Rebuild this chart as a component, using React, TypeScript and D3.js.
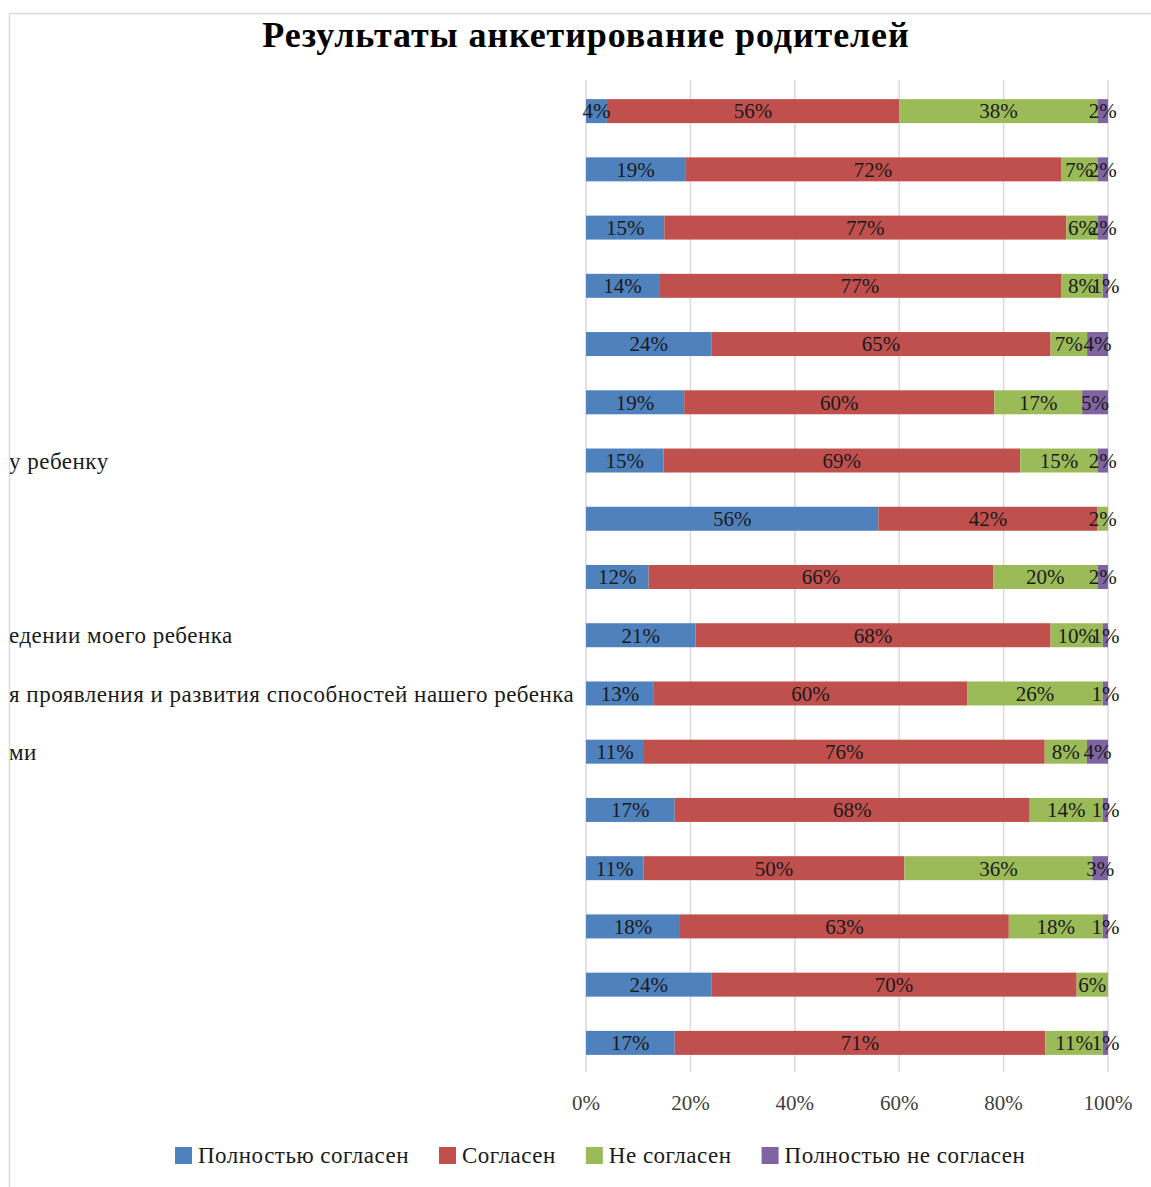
import React, { useEffect, useRef } from 'react';
import * as d3 from 'd3';

// visible parts of the question labels (the rest is cut off by the frame)
const questions = [
  '', '', '', '', '', '',
  'у ребенку',
  '',
  '',
  'едении моего ребенка',
  'я проявления и развития способностей нашего ребенка',
  'ми',
  '', '', '', '', '',
];

const seriesNames = ['Полностью согласен', 'Согласен', 'Не согласен', 'Полностью не согласен'];
const seriesColors = ['#4F81BD', '#C0504D', '#9BBB59', '#8064A2'];

const fullyAgree = [4, 19, 15, 14, 24, 19, 15, 56, 12, 21, 13, 11, 17, 11, 18, 24, 17];
const agree = [56, 72, 77, 77, 65, 60, 69, 42, 66, 68, 60, 76, 68, 50, 63, 70, 71];
const disagree = [38, 7, 6, 8, 7, 17, 15, 2, 20, 10, 26, 8, 14, 36, 18, 6, 11];
const fullyDisagree = [2, 2, 2, 1, 4, 5, 2, 0, 2, 1, 1, 4, 1, 3, 1, 0, 1];

const ticks = [0, 0.2, 0.4, 0.6, 0.8, 1];

const W = 1151;
const H = 1187;
const FONT = '"Liberation Serif", "Times New Roman", serif';

const App: React.FC = () => {
  const svgRef = useRef<SVGSVGElement>(null);

  useEffect(() => {
    if (!svgRef.current) return;
    const svg = d3.select(svgRef.current);
    svg.selectAll('*').remove();

    const rows = questions.map((q, i) => ({
      id: String(i),
      label: q,
      [seriesNames[0]]: fullyAgree[i],
      [seriesNames[1]]: agree[i],
      [seriesNames[2]]: disagree[i],
      [seriesNames[3]]: fullyDisagree[i],
    }));

    const x = d3.scaleLinear().domain([0, 1]).range([586, 1108]);
    const y = d3.scaleBand<string>()
      .domain(rows.map(r => r.id))
      .range([82, 1072])
      .paddingInner(0.588)
      .paddingOuter(0.294);

    const stack = d3.stack<any>()
      .keys(seriesNames)
      .offset(d3.stackOffsetExpand);
    const layers = stack(rows);

    // frame
    svg.append('path')
      .attr('d', `M9.5,${H} V13.5 H${W}`)
      .style('fill', 'none')
      .style('stroke', '#d9d9d9')
      .style('stroke-width', 1.5);

    // title
    svg.append('text')
      .attr('x', 586)
      .attr('y', 47)
      .attr('text-anchor', 'middle')
      .style('font-family', FONT)
      .style('font-weight', 'bold')
      .style('font-size', '36px')
      .style('letter-spacing', '0.9px')
      .style('fill', '#000')
      .text('Результаты анкетирование родителей');

    // gridlines
    svg.append('g')
      .selectAll('line')
      .data(ticks)
      .enter()
      .append('line')
      .attr('x1', d => x(d))
      .attr('x2', d => x(d))
      .attr('y1', 80)
      .attr('y2', 1072)
      .style('stroke', '#d9d9d9')
      .style('stroke-width', 1.5);

    // tick labels
    svg.append('g')
      .selectAll('text')
      .data(ticks)
      .enter()
      .append('text')
      .attr('x', d => x(d))
      .attr('y', 1110)
      .attr('text-anchor', 'middle')
      .style('font-family', FONT)
      .style('font-size', '21px')
      .style('fill', '#404040')
      .text(d => d3.format('.0%')(d));

    // category labels, clipped by the frame
    svg.append('clipPath')
      .attr('id', 'label-clip')
      .append('rect')
      .attr('x', 10)
      .attr('y', 60)
      .attr('width', 570)
      .attr('height', 1030);

    svg.append('g')
      .attr('clip-path', 'url(#label-clip)')
      .selectAll('text')
      .data(rows)
      .enter()
      .append('text')
      .attr('x', 9)
      .attr('y', d => (y(d.id) as number) + y.bandwidth() / 2)
      .attr('dy', '0.35em')
      .style('font-family', FONT)
      .style('font-size', '23px')
      .style('letter-spacing', '0.5px')
      .style('fill', '#1a1a1a')
      .text(d => d.label);

    // bars
    const layerG = svg.append('g')
      .selectAll('g')
      .data(layers)
      .enter()
      .append('g')
      .style('fill', (_d, i) => seriesColors[i]);

    layerG.selectAll('rect')
      .data(d => d)
      .enter()
      .append('rect')
      .attr('x', d => x(d[0]))
      .attr('y', d => y(d.data.id) as number)
      .attr('width', d => x(d[1]) - x(d[0]))
      .attr('height', y.bandwidth());

    // data labels
    const labelG = svg.append('g');
    layers.forEach((layer, si) => {
      layer.forEach(d => {
        const v = d.data[seriesNames[si]];
        if (!v) return;
        labelG.append('text')
          .attr('x', x((d[0] + d[1]) / 2))
          .attr('y', (y(d.data.id) as number) + y.bandwidth() / 2)
          .attr('dy', '0.35em')
          .attr('text-anchor', 'middle')
          .style('font-family', FONT)
          .style('font-size', '21px')
          .style('fill', '#1a1a1a')
          .text(`${v}%`);
      });
    });

    // legend
    const legend = svg.append('g').attr('transform', 'translate(175,1155)');
    let cx = 0;
    seriesNames.forEach((name, i) => {
      legend.append('rect')
        .attr('x', cx)
        .attr('y', -8)
        .attr('width', 17)
        .attr('height', 17)
        .style('fill', seriesColors[i]);
      const t = legend.append('text')
        .attr('x', cx + 23)
        .attr('y', 0)
        .attr('dy', '0.35em')
        .style('font-family', FONT)
        .style('font-size', '23px')
        .style('letter-spacing', '0.5px')
        .style('fill', '#1a1a1a')
        .text(name);
      const w = (t.node() as SVGTextElement).getComputedTextLength();
      cx += 23 + w + 30;
    });
  }, []);

  return (
    <svg
      ref={svgRef}
      width={W}
      height={H}
      style={{ position: 'absolute', left: 0, top: 0, background: '#fff' }}
    />
  );
};

export default App;
